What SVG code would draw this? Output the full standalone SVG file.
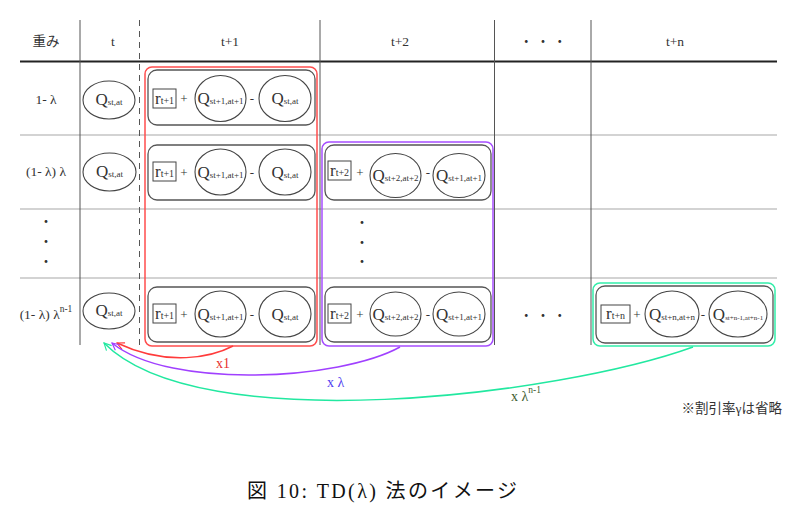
<svg xmlns="http://www.w3.org/2000/svg" width="799" height="519" viewBox="0 0 799 519">
<defs>
<style>
text{font-family:"Liberation Serif","Noto Sans CJK JP",serif;fill:#333}
.h{font-size:13.5px;text-anchor:middle}
.q{font-size:17px}
.s{font-size:9px}
.m{font-size:13px;text-anchor:middle}
.ell{fill:none;stroke:#444;stroke-width:1.1}
.gb{fill:none;stroke:#555;stroke-width:1.3}
.rb{fill:#fff;stroke:#444;stroke-width:1}
.grid{stroke:#c4c4c4;stroke-width:1.5}
.col{stroke:#555;stroke-width:1}
</style>
<marker id="ar" viewBox="0 0 10 10" refX="9" refY="5" markerWidth="9" markerHeight="9" orient="auto" markerUnits="userSpaceOnUse"><path d="M1,1 L9,5 L1,9" fill="none" stroke="#ff3b3b" stroke-width="1.3"/></marker>
<marker id="ap" viewBox="0 0 10 10" refX="9" refY="5" markerWidth="9" markerHeight="9" orient="auto" markerUnits="userSpaceOnUse"><path d="M1,1 L9,5 L1,9" fill="none" stroke="#a040ff" stroke-width="1.3"/></marker>
<marker id="at" viewBox="0 0 10 10" refX="9" refY="5" markerWidth="9" markerHeight="9" orient="auto" markerUnits="userSpaceOnUse"><path d="M1,1 L9,5 L1,9" fill="none" stroke="#22e8a0" stroke-width="1.3"/></marker>
</defs>
<rect width="799" height="519" fill="#fff"/>

<g id="table">
<line class="grid" x1="20" y1="135" x2="777" y2="135"/>
<line class="grid" x1="20" y1="209" x2="777" y2="209"/>
<line class="grid" x1="20" y1="278" x2="777" y2="278"/>
<line x1="20" y1="61.5" x2="777" y2="61.5" stroke="#222" stroke-width="2"/>
<line class="col" x1="80" y1="20" x2="80" y2="345"/>
<line class="col" x1="139.5" y1="20" x2="139.5" y2="345" stroke-dasharray="6,5"/>
<line class="col" x1="320" y1="20" x2="320" y2="345"/>
<line class="col" x1="494.5" y1="20" x2="494.5" y2="345"/>
<line class="col" x1="591" y1="20" x2="591" y2="345"/>
<text class="h" x="46" y="46">重み</text>
<text class="h" x="113" y="46">t</text>
<text class="h" x="230" y="46">t+1</text>
<text class="h" x="400" y="46">t+2</text>
<text class="h" x="543" y="46">・ ・ ・</text>
<text class="h" x="675" y="46">t+n</text>
<text class="h" x="46" y="104">1- λ</text>
<text class="h" x="46" y="176">(1- λ) λ</text>
<text class="h" x="46" y="226">・</text>
<text class="h" x="46" y="246">・</text>
<text class="h" x="46" y="266">・</text>
<text class="h" x="46" y="319">(1- λ) λ<tspan font-size="9.5px" dy="-7">n-1</tspan></text>
<text class="h" x="362" y="227">・</text>
<text class="h" x="362" y="247">・</text>
<text class="h" x="362" y="266">・</text>
<text class="h" x="543" y="320">・ ・ ・</text>
</g>

<g id="q-t-row1"><ellipse class="ell" cx="109" cy="100" rx="26" ry="19"/><text x="109" y="105" text-anchor="middle"><tspan class="q">Q</tspan><tspan class="s">st,at</tspan></text></g>
<g id="q-t-row2"><ellipse class="ell" cx="109.5" cy="172" rx="26.5" ry="19"/><text x="109.5" y="177" text-anchor="middle"><tspan class="q">Q</tspan><tspan class="s">st,at</tspan></text></g>
<g id="q-t-row4"><ellipse class="ell" cx="109" cy="311" rx="26" ry="18"/><text x="109" y="316" text-anchor="middle"><tspan class="q">Q</tspan><tspan class="s">st,at</tspan></text></g>

<g id="group-t1">
<rect x="145" y="67" width="172" height="279" rx="7" fill="none" stroke="#ff4d4d" stroke-width="1.5"/>
</g>
<g id="group-t2">
<rect x="322" y="142" width="171" height="204" rx="7" fill="none" stroke="#a64dff" stroke-width="1.5"/>
</g>
<g id="group-tn">
<rect x="593" y="283" width="182" height="63" rx="7" fill="none" stroke="#33eeaa" stroke-width="1.5"/>
</g>

<g id="td-t1-row1">
<rect class="gb" x="148" y="70" width="167" height="55" rx="9"/>
<rect class="rb" x="153" y="89" width="23" height="19"/>
<text x="164.5" y="104" text-anchor="middle"><tspan class="q">r</tspan><tspan font-size="10px">t+1</tspan></text>
<text class="m" x="184" y="103">+</text>
<ellipse class="ell" cx="220.5" cy="98.5" rx="25.5" ry="23"/>
<text x="220.5" y="104" text-anchor="middle"><tspan class="q">Q</tspan><tspan class="s">st+1,at+1</tspan></text>
<text class="m" x="252" y="103">-</text>
<ellipse class="ell" cx="285" cy="98.5" rx="26" ry="23"/>
<text x="285" y="104" text-anchor="middle"><tspan class="q">Q</tspan><tspan class="s">st,at</tspan></text>
</g>

<g id="td-t1-row2">
<rect class="gb" x="148" y="145" width="167" height="55" rx="9"/>
<rect class="rb" x="153" y="162" width="23" height="19"/>
<text x="164.5" y="177" text-anchor="middle"><tspan class="q">r</tspan><tspan font-size="10px">t+1</tspan></text>
<text class="m" x="184" y="177">+</text>
<ellipse class="ell" cx="220.5" cy="172" rx="25.5" ry="23"/>
<text x="220.5" y="177.5" text-anchor="middle"><tspan class="q">Q</tspan><tspan class="s">st+1,at+1</tspan></text>
<text class="m" x="252" y="177">-</text>
<ellipse class="ell" cx="285" cy="172" rx="26" ry="23"/>
<text x="285" y="177.5" text-anchor="middle"><tspan class="q">Q</tspan><tspan class="s">st,at</tspan></text>
</g>

<g id="td-t1-row4">
<rect class="gb" x="148" y="287" width="167" height="55" rx="9"/>
<rect class="rb" x="153" y="304" width="23" height="19"/>
<text x="164.5" y="319" text-anchor="middle"><tspan class="q">r</tspan><tspan font-size="10px">t+1</tspan></text>
<text class="m" x="184" y="319">+</text>
<ellipse class="ell" cx="220.5" cy="314" rx="25.5" ry="23"/>
<text x="220.5" y="319.5" text-anchor="middle"><tspan class="q">Q</tspan><tspan class="s">st+1,at+1</tspan></text>
<text class="m" x="252" y="319">-</text>
<ellipse class="ell" cx="285" cy="314" rx="26" ry="23"/>
<text x="285" y="319.5" text-anchor="middle"><tspan class="q">Q</tspan><tspan class="s">st,at</tspan></text>
</g>

<g id="td-t2-row2">
<rect class="gb" x="325" y="145" width="166" height="55" rx="9"/>
<rect class="rb" x="328" y="161" width="23" height="19"/>
<text x="339.5" y="176" text-anchor="middle"><tspan class="q">r</tspan><tspan font-size="10px">t+2</tspan></text>
<text class="m" x="360" y="177">+</text>
<ellipse class="ell" cx="395.5" cy="175.5" rx="25.5" ry="22"/>
<text x="395.5" y="181" text-anchor="middle"><tspan class="q">Q</tspan><tspan class="s">st+2,at+2</tspan></text>
<text class="m" x="428" y="177">-</text>
<ellipse class="ell" cx="459" cy="175.5" rx="26" ry="22"/>
<text x="459" y="181" text-anchor="middle"><tspan class="q">Q</tspan><tspan class="s">st+1,at+1</tspan></text>
</g>

<g id="td-t2-row4">
<rect class="gb" x="325" y="287" width="166" height="55" rx="9"/>
<rect class="rb" x="328" y="304" width="23" height="19"/>
<text x="339.5" y="319" text-anchor="middle"><tspan class="q">r</tspan><tspan font-size="10px">t+2</tspan></text>
<text class="m" x="360" y="319">+</text>
<ellipse class="ell" cx="395.5" cy="314" rx="25.5" ry="22"/>
<text x="395.5" y="319.5" text-anchor="middle"><tspan class="q">Q</tspan><tspan class="s">st+2,at+2</tspan></text>
<text class="m" x="428" y="319">-</text>
<ellipse class="ell" cx="459" cy="314" rx="26" ry="22"/>
<text x="459" y="319.5" text-anchor="middle"><tspan class="q">Q</tspan><tspan class="s">st+1,at+1</tspan></text>
</g>

<g id="td-tn-row4">
<rect class="gb" x="596" y="286" width="177" height="57" rx="9"/>
<rect class="rb" x="601" y="305" width="29" height="18"/>
<text x="615.5" y="319" text-anchor="middle"><tspan class="q">r</tspan><tspan font-size="10px">t+n</tspan></text>
<text class="m" x="637" y="319">+</text>
<ellipse class="ell" cx="672" cy="314" rx="27" ry="23"/>
<text x="672" y="319.5" text-anchor="middle"><tspan class="q">Q</tspan><tspan class="s">st+n,at+n</tspan></text>
<text class="m" x="703" y="319">-</text>
<ellipse class="ell" cx="738" cy="314" rx="29" ry="23"/>
<text x="738" y="319.5" text-anchor="middle"><tspan class="q">Q</tspan><tspan font-size="7px">st+n-1,at+n-1</tspan></text>
</g>

<g id="connectors" fill="none" stroke-width="1.5">
<path d="M233,346 C212,357 168,367 117,343" stroke="#ff3b3b" marker-end="url(#ar)"/>
<path d="M400,347 C340,380 170,390 112,343" stroke="#a040ff" marker-end="url(#ap)"/>
<path d="M693,347 C560,395 200,440 104,343" stroke="#22e8a0" marker-end="url(#at)"/>
</g>
<g id="labels">
<text x="216" y="368" font-size="14px" style="fill:#e83030">x1</text>
<text x="327" y="387" font-size="14px" style="fill:#5040f0">x λ</text>
<text x="511" y="401" font-size="14px" style="fill:#3d5c2e">x  λ<tspan font-size="9.5px" dy="-8">n-1</tspan></text>
<text x="782" y="413" font-size="13.5px" text-anchor="end" style="fill:#333">※割引率γは省略</text>
</g>

<text x="247" y="498" font-size="20px" textLength="270" lengthAdjust="spacing" style="fill:#111">図 10: TD(λ) 法のイメージ</text>
</svg>
